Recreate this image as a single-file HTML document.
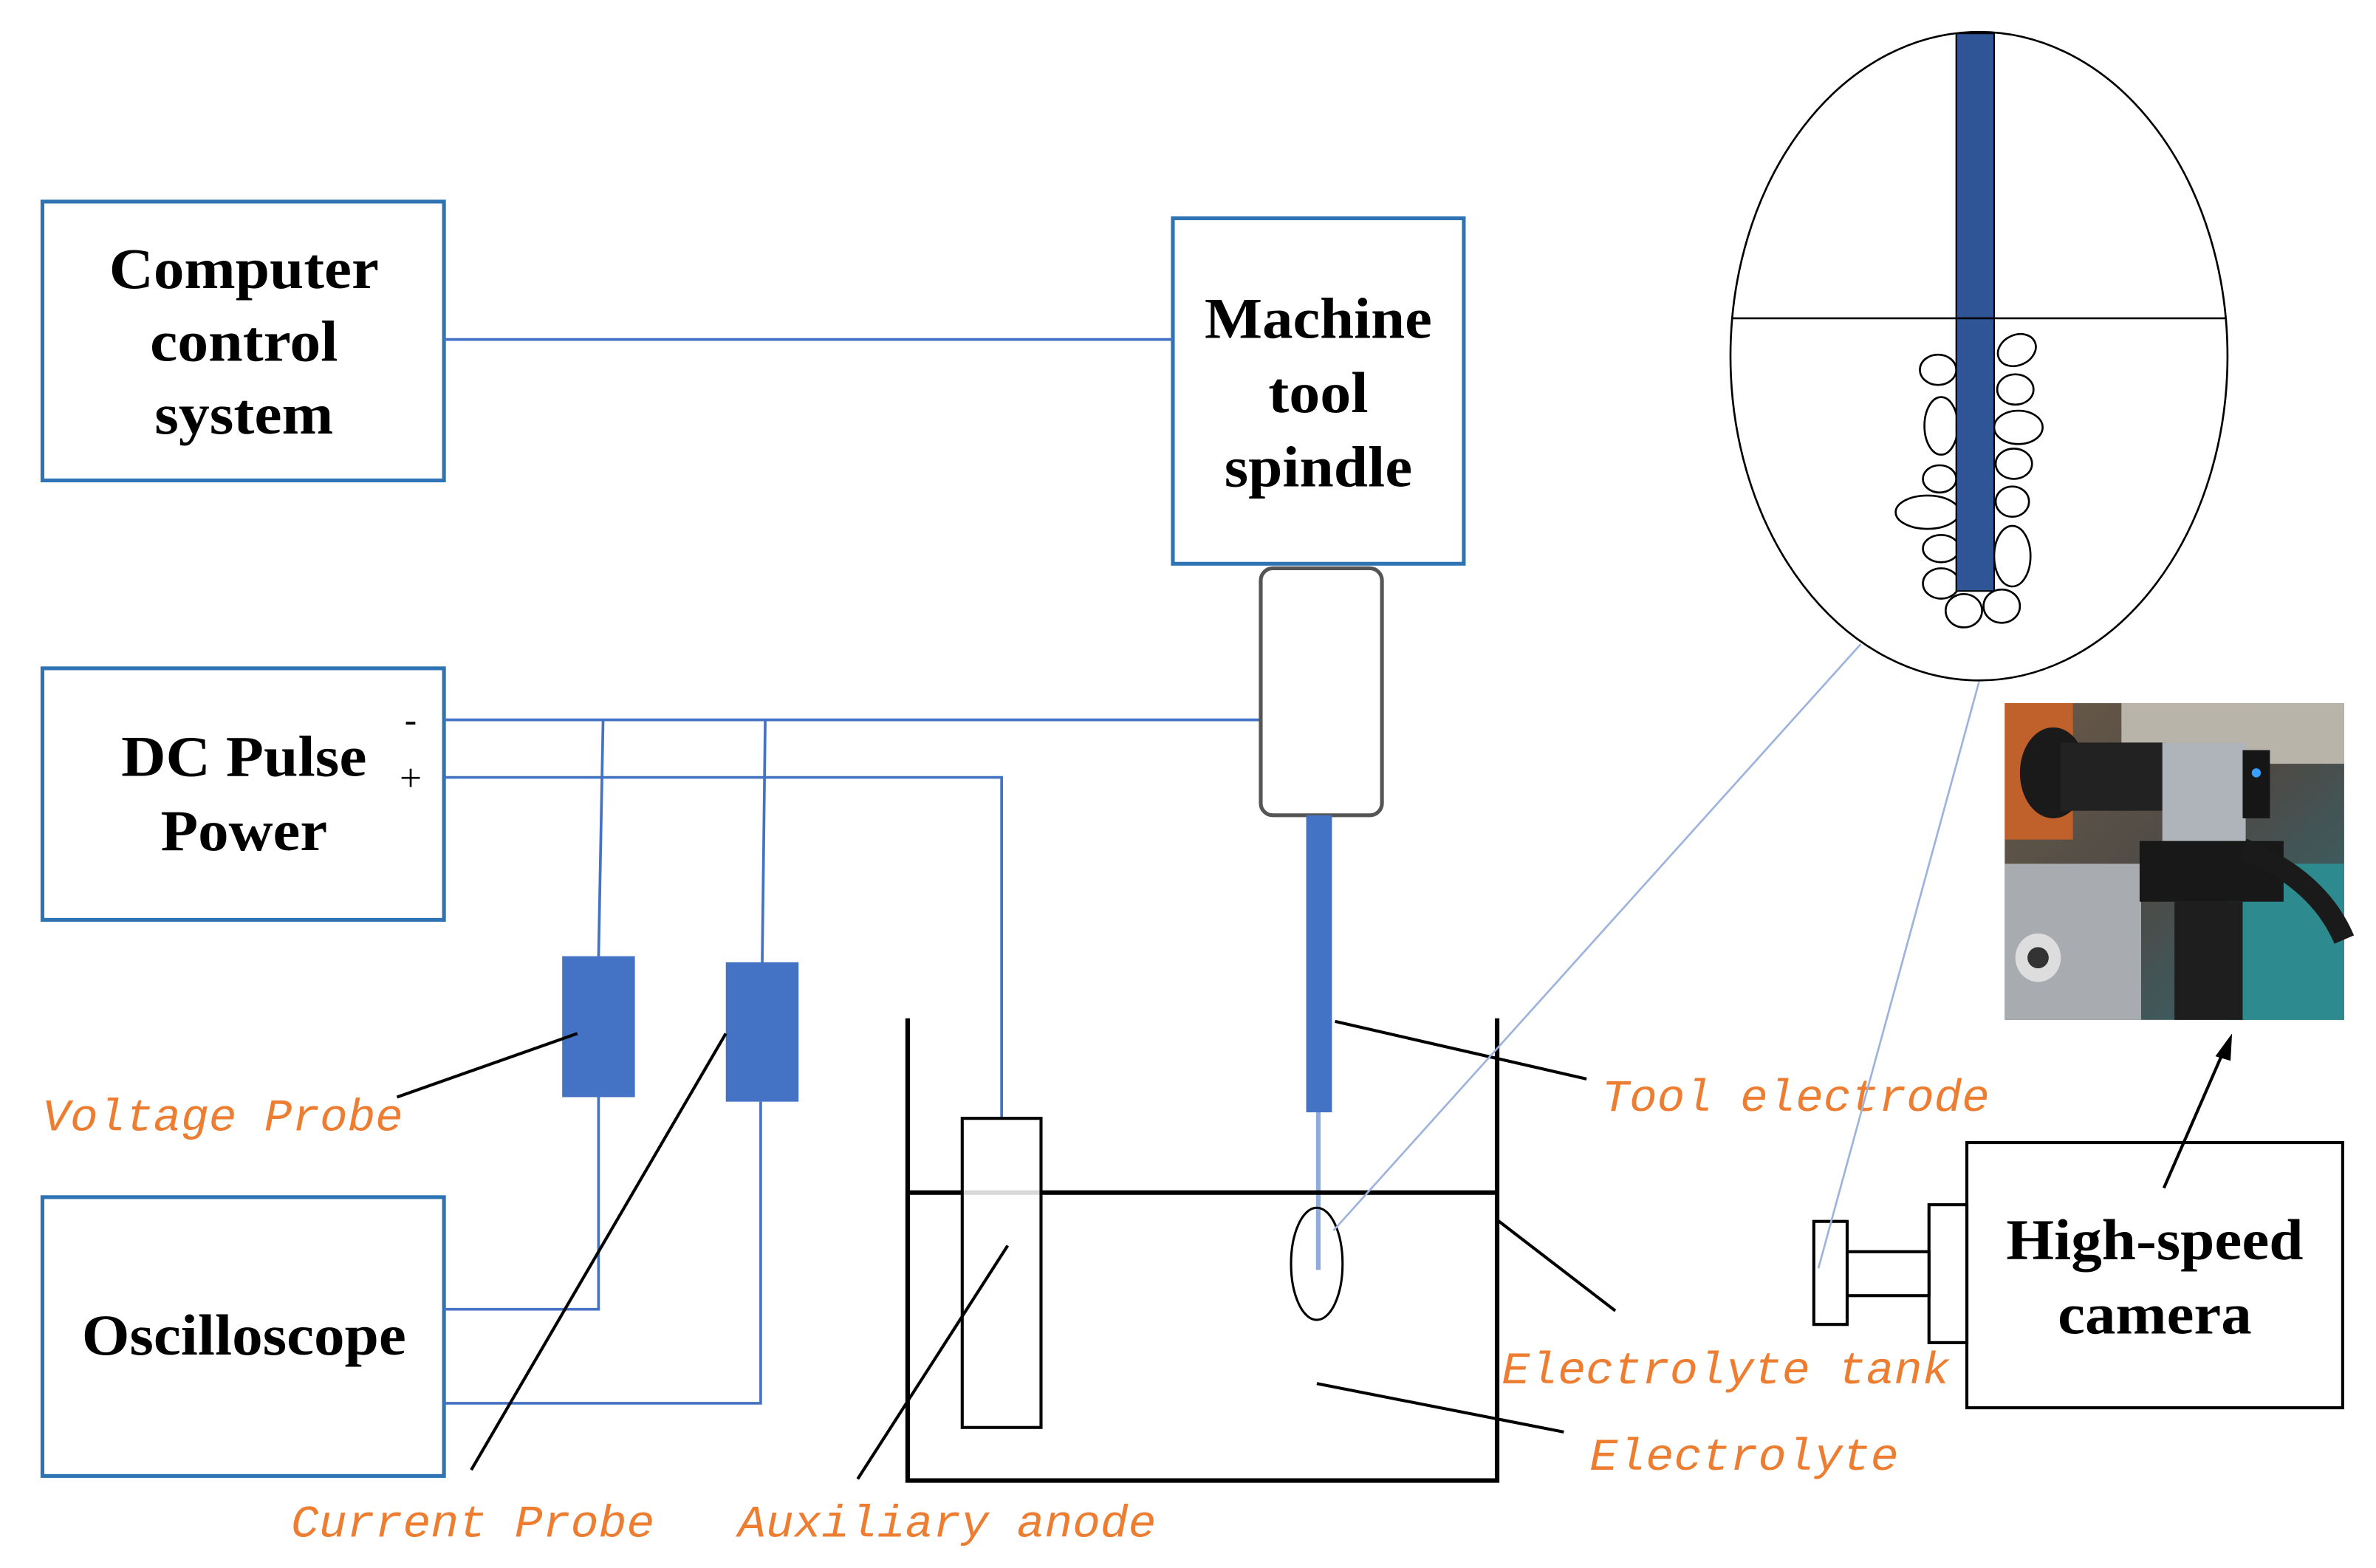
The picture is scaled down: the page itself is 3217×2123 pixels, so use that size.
<!DOCTYPE html>
<html><head><meta charset="utf-8"><style>html,body{margin:0;padding:0;background:#fff}svg{display:block}</style></head>
<body>
<svg width="3217" height="2123" viewBox="0 0 1568 1034.7" xmlns="http://www.w3.org/2000/svg">
<defs>
<linearGradient id="bg" x1="0" y1="0" x2="1" y2="1"><stop offset="0" stop-color="#6b5a48"/><stop offset="0.5" stop-color="#4d4a46"/><stop offset="1" stop-color="#2e6a74"/></linearGradient>
</defs>
<rect width="1568" height="1035" fill="#fff"/>
<g fill="none" stroke="#2e74b5" stroke-width="2.5">
<rect x="28" y="133" width="265" height="184"/>
<rect x="774" y="144" width="192" height="228"/>
<rect x="28" y="441" width="265" height="166"/>
<rect x="28" y="790" width="265" height="184"/>
</g>
<g fill="none" stroke="#4472c4" stroke-width="1.8">
<line x1="293" y1="224" x2="774" y2="224"/>
<line x1="293" y1="475" x2="832" y2="475"/>
<polyline points="293,513 661,513 661,738"/>
<polyline points="398,475 395,632"/>
<polyline points="505,475 503,636"/>
<polyline points="395,724 395,864 293,864"/>
<polyline points="502,727 502,926 293,926"/>
</g>
<!-- camera -->
<rect x="1298" y="754" width="248" height="175" fill="#fff" stroke="#000" stroke-width="2"/>
<rect x="1273" y="795" width="25" height="91" fill="#fff" stroke="#000" stroke-width="2"/>
<rect x="1219" y="826" width="54" height="29" fill="#fff" stroke="#000" stroke-width="2"/>
<rect x="1197" y="806" width="22" height="68" fill="#fff" stroke="#000" stroke-width="2"/>
<g font-family="Liberation Serif, serif" font-weight="bold" font-size="38" text-anchor="middle" fill="#000" lengthAdjust="spacingAndGlyphs">
<text x="161" y="190" textLength="178" lengthAdjust="spacingAndGlyphs">Computer</text><text x="161" y="238" textLength="124" lengthAdjust="spacingAndGlyphs">control</text><text x="161" y="286" textLength="118" lengthAdjust="spacingAndGlyphs">system</text>
<text x="870" y="223" textLength="150" lengthAdjust="spacingAndGlyphs">Machine</text><text x="870" y="272" textLength="66" lengthAdjust="spacingAndGlyphs">tool</text><text x="870" y="321" textLength="124" lengthAdjust="spacingAndGlyphs">spindle</text>
<text x="161" y="512" textLength="162" lengthAdjust="spacingAndGlyphs">DC Pulse</text><text x="161" y="561" textLength="110" lengthAdjust="spacingAndGlyphs">Power</text>
<text x="161" y="894" textLength="214" lengthAdjust="spacingAndGlyphs">Oscilloscope</text>
<text x="1422" y="831" textLength="196" lengthAdjust="spacingAndGlyphs">High-speed</text><text x="1422" y="880" textLength="128" lengthAdjust="spacingAndGlyphs">camera</text>
</g>
<text x="271" y="483" font-family="Liberation Serif, serif" font-size="24" text-anchor="middle">-</text>
<text x="271" y="522" font-family="Liberation Serif, serif" font-size="26" text-anchor="middle">+</text>
<rect x="832" y="375" width="80" height="163" rx="8" fill="#fff" stroke="#555" stroke-width="2.5"/>
<rect x="862" y="538" width="17" height="196" fill="#4472c4"/>
<line x1="870" y1="734" x2="870" y2="838" stroke="#8faadc" stroke-width="3"/>
<rect x="371" y="631" width="48" height="93" fill="#4472c4"/>
<rect x="479" y="635" width="48" height="92" fill="#4472c4"/>
<g stroke="#000" stroke-width="3" fill="none">
<polyline points="599,672 599,977 988,977 988,672"/>
<line x1="599" y1="787" x2="988" y2="787"/>
</g>
<rect x="635" y="738" width="52" height="204" fill="#fff" stroke="#000" stroke-width="2"/>
<line x1="599" y1="787" x2="988" y2="787" stroke="#000" stroke-width="3" opacity="0.15"/>
<ellipse cx="869" cy="834" rx="17" ry="37" fill="none" stroke="#000" stroke-width="1.5"/>
<line x1="870" y1="800" x2="870" y2="838" stroke="#8faadc" stroke-width="3"/>
<g stroke="#000" stroke-width="2" fill="none">
<line x1="262" y1="724" x2="381" y2="682"/>
<line x1="311" y1="970" x2="479" y2="682"/>
<line x1="566" y1="976" x2="665" y2="822"/>
<line x1="881" y1="674" x2="1047" y2="712"/>
<line x1="988" y1="805" x2="1066" y2="865"/>
<line x1="869" y1="913" x2="1032" y2="945"/>
<line x1="1428" y1="784" x2="1469" y2="690"/>
</g>
<polygon points="1473,682 1462,697 1472,700" fill="#000"/>
<g font-family="Liberation Mono, monospace" font-style="italic" font-size="30" fill="#ed7d31">
<text x="28" y="746" textLength="238" lengthAdjust="spacingAndGlyphs">Voltage Probe</text>
<text x="192" y="1014" textLength="240" lengthAdjust="spacingAndGlyphs">Current Probe</text>
<text x="487" y="1014" textLength="276" lengthAdjust="spacingAndGlyphs">Auxiliary anode</text>
<text x="1057" y="733" textLength="256" lengthAdjust="spacingAndGlyphs">Tool electrode</text>
<text x="991" y="913" textLength="296" lengthAdjust="spacingAndGlyphs">Electrolyte tank</text>
<text x="1049" y="970" textLength="204" lengthAdjust="spacingAndGlyphs">Electrolyte</text>
</g>
<line x1="880" y1="812" x2="1228" y2="425" stroke="#9db3dd" stroke-width="1.3"/>
<line x1="1200" y1="837" x2="1306" y2="450" stroke="#9db3dd" stroke-width="1.3"/>
<ellipse cx="1306" cy="235" rx="164" ry="214" fill="none" stroke="#000" stroke-width="1.3"/>
<line x1="1143" y1="210" x2="1469" y2="210" stroke="#000" stroke-width="1.3"/>
<g fill="#fff" stroke="#000" stroke-width="1.3">
<ellipse cx="1279" cy="244" rx="12" ry="10"/>
<ellipse cx="1281" cy="281" rx="11" ry="19"/>
<ellipse cx="1280" cy="316" rx="11" ry="9"/>
<ellipse cx="1272" cy="338" rx="21" ry="11"/>
<ellipse cx="1281" cy="362" rx="12" ry="9"/>
<ellipse cx="1281" cy="385" rx="12" ry="10"/>
<ellipse cx="1331" cy="231" rx="13" ry="10" transform="rotate(-25 1331 231)"/>
<ellipse cx="1330" cy="257" rx="12" ry="10"/>
<ellipse cx="1332" cy="282" rx="16" ry="11"/>
<ellipse cx="1329" cy="306" rx="12" ry="10"/>
<ellipse cx="1328" cy="331" rx="11" ry="10"/>
<ellipse cx="1328" cy="367" rx="12" ry="20"/>
<ellipse cx="1296" cy="403" rx="12" ry="11"/>
<ellipse cx="1321" cy="400" rx="12" ry="11"/>
</g>
<rect x="1291" y="22" width="25" height="368" fill="#2f5597" stroke="#000" stroke-width="1"/>
<line x1="1291" y1="210" x2="1316" y2="210" stroke="#000" stroke-width="1.3"/>
<g>
<rect x="1323" y="464" width="224" height="209" fill="url(#bg)"/>
<rect x="1323" y="464" width="45" height="90" fill="#c0602a"/>
<rect x="1400" y="464" width="147" height="40" fill="#b9b4aa"/>
<rect x="1323" y="570" width="90" height="103" fill="#a8acb0"/>
<rect x="1470" y="570" width="77" height="103" fill="#2d8a8e"/>
<ellipse cx="1355" cy="510" rx="22" ry="30" fill="#1a1a1a"/>
<rect x="1360" y="490" width="70" height="45" fill="#222"/>
<rect x="1427" y="490" width="55" height="65" fill="#aeb4ba"/>
<rect x="1480" y="495" width="18" height="45" fill="#161616"/>
<rect x="1412" y="555" width="95" height="40" fill="#181818"/>
<rect x="1435" y="595" width="45" height="78" fill="#1e1e1e"/>
<path d="M1480 560 Q1530 580 1547 620" stroke="#1a1a1a" stroke-width="14" fill="none"/>
<ellipse cx="1345" cy="632" rx="15" ry="16" fill="#ddd"/>
<circle cx="1345" cy="632" r="7" fill="#333"/>
<circle cx="1489" cy="510" r="3" fill="#3aa0ff"/>
</g>
</svg>
</body></html>
